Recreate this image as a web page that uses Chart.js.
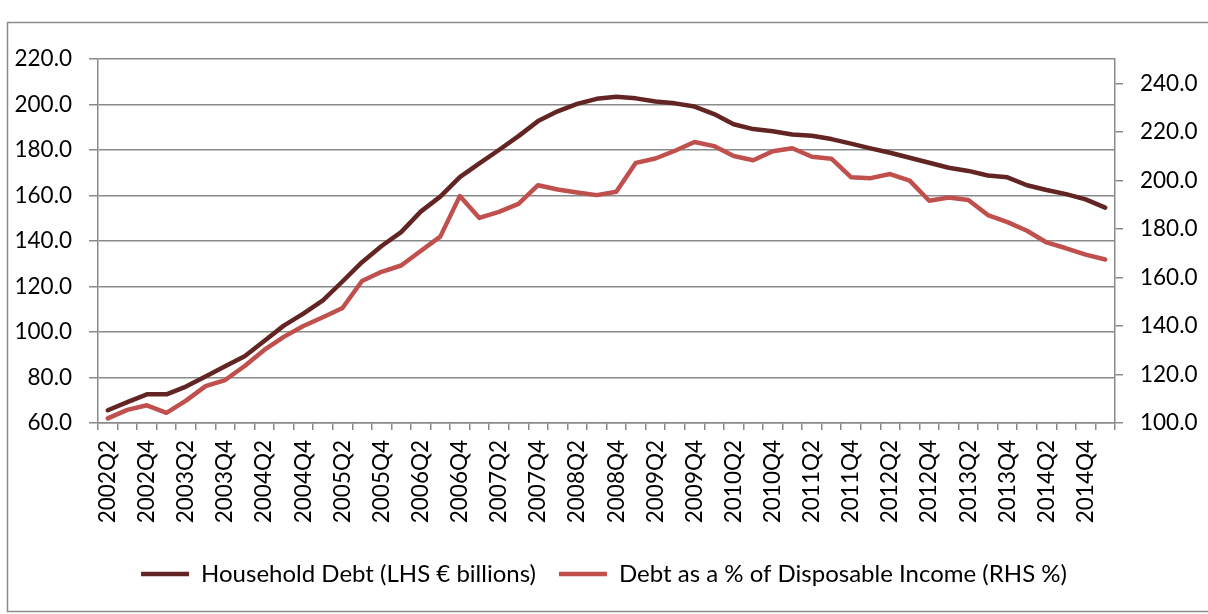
<!DOCTYPE html>
<html>
<head>
<meta charset="utf-8">
<script src="https://cdn.jsdelivr.net/npm/chart.js@4/dist/chart.umd.min.js"></script>
<style>
  html, body { margin: 0; padding: 0; background: #fff; }
  #wrap { width: 1208px; height: 614px; }
</style>
</head>
<body>
<div id="wrap"><canvas id="c" width="1208" height="614"></canvas></div>
<script>
// Quarterly categories, 2002Q2 to 2015Q1
const quarters = [
  '2002Q2','2002Q3','2002Q4','2003Q1','2003Q2','2003Q3','2003Q4','2004Q1','2004Q2','2004Q3',
  '2004Q4','2005Q1','2005Q2','2005Q3','2005Q4','2006Q1','2006Q2','2006Q3','2006Q4','2007Q1',
  '2007Q2','2007Q3','2007Q4','2008Q1','2008Q2','2008Q3','2008Q4','2009Q1','2009Q2','2009Q3',
  '2009Q4','2010Q1','2010Q2','2010Q3','2010Q4','2011Q1','2011Q2','2011Q3','2011Q4','2012Q1',
  '2012Q2','2012Q3','2012Q4','2013Q1','2013Q2','2013Q3','2013Q4','2014Q1','2014Q2','2014Q3',
  '2014Q4','2015Q1'
];

// Household debt, € billions (left axis)
const householdDebt = [
  65.6, 69.2, 72.6, 72.6, 76.0, 80.4, 84.9, 89.3, 96.0, 102.8,
  108.1, 113.9, 122.2, 130.7, 137.8, 143.9, 152.9, 159.5, 168.1, 174.1,
  180.0, 186.1, 192.7, 197.0, 200.3, 202.5, 203.4, 202.7, 201.3, 200.5,
  199.1, 195.8, 191.3, 189.2, 188.2, 186.8, 186.3, 184.8, 182.8, 180.7,
  178.8, 176.6, 174.4, 172.2, 170.8, 168.8, 168.0, 164.5, 162.4, 160.6,
  158.3, 154.7
];

// Debt as a % of disposable income (right axis)
const debtToIncome = [
  101.9, 105.4, 107.3, 104.2, 109.2, 115.2, 117.7, 123.5, 130.1, 135.5,
  140.0, 143.6, 147.4, 158.5, 162.3, 164.9, 170.9, 176.8, 193.5, 184.5,
  187.0, 190.3, 198.0, 196.2, 195.0, 193.9, 195.3, 207.2, 209.0, 212.2,
  215.8, 214.1, 210.0, 208.3, 212.0, 213.2, 209.7, 208.9, 201.3, 200.9,
  202.6, 199.9, 191.6, 192.9, 191.9, 185.7, 182.8, 179.2, 174.4, 172.0,
  169.4, 167.4
];

const leftTicks = [60, 80, 100, 120, 140, 160, 180, 200, 220];
const rightTicks = [100, 120, 140, 160, 180, 200, 220, 240];

const FONT = 'Lato';
const TICK_SIZE = 22.5;
const AXIS_GREY = '#8a8a8a';

// Thin grey frame around the whole chart
const framePlugin = {
  id: 'frame',
  beforeDraw(chart) {
    const ctx = chart.ctx;
    ctx.save();
    ctx.fillStyle = '#fff';
    ctx.fillRect(0, 0, chart.width, chart.height);
    ctx.strokeStyle = '#8c8c8c';
    ctx.lineWidth = 1.5;
    ctx.strokeRect(7.5, 22.5, 1400, 589);
    ctx.restore();
  }
};

new Chart(document.getElementById('c'), {
  type: 'line',
  data: {
    labels: quarters,
    datasets: [
      {
        label: 'Household Debt (LHS € billions)',
        data: householdDebt,
        yAxisID: 'yL',
        borderColor: '#632523',
        backgroundColor: '#632523',
        borderWidth: 4.5,
        borderCapStyle: 'round',
        borderJoinStyle: 'round',
        pointRadius: 0,
        tension: 0
      },
      {
        label: 'Debt as a % of Disposable Income (RHS %)',
        data: debtToIncome,
        yAxisID: 'yR',
        borderColor: '#C0504D',
        backgroundColor: '#C0504D',
        borderWidth: 4.5,
        borderCapStyle: 'round',
        borderJoinStyle: 'round',
        pointRadius: 0,
        tension: 0
      }
    ]
  },
  options: {
    responsive: false,
    animation: false,
    devicePixelRatio: 1,
    layout: { padding: { top: 59, left: 0, right: 0, bottom: 18 } },
    plugins: {
      legend: {
        position: 'bottom',
        labels: {
          usePointStyle: true,
          pointStyle: 'line',
          pointStyleWidth: 48,
          padding: 23,
          color: '#000',
          font: { family: FONT, size: 24 }
        }
      },
      tooltip: { enabled: false }
    },
    scales: {
      x: {
        type: 'category',
        offset: true,
        grid: {
          offset: true,
          drawOnChartArea: false,
          drawTicks: true,
          tickLength: 7,
          color: AXIS_GREY,
          lineWidth: 1.5
        },
        border: { display: true, color: AXIS_GREY, width: 1.5 },
        ticks: {
          autoSkip: false,
          minRotation: 90,
          maxRotation: 90,
          padding: 10,
          color: '#000',
          font: { family: FONT, size: TICK_SIZE },
          callback: (v, i) => (i % 2 === 0 ? quarters[i] : '')
        },
        afterFit: s => { s.height = 116; }
      },
      yL: {
        type: 'linear',
        position: 'left',
        min: 60,
        max: 220,
        grid: {
          color: AXIS_GREY,
          lineWidth: 1.5,
          tickLength: 9
        },
        border: { display: true, color: AXIS_GREY, width: 1.5 },
        ticks: {
          padding: 17,
          color: '#000',
          font: { family: FONT, size: TICK_SIZE },
          callback: v => Number(v).toFixed(1)
        },
        afterBuildTicks: s => { s.ticks = leftTicks.map(v => ({ value: v })); },
        afterFit: s => { s.width = 98; }
      },
      yR: {
        type: 'linear',
        position: 'right',
        min: 100,
        max: 250,
        grid: {
          drawOnChartArea: false,
          color: AXIS_GREY,
          lineWidth: 1.5,
          tickLength: 8
        },
        border: { display: true, color: AXIS_GREY, width: 1.5 },
        ticks: {
          padding: 17,
          color: '#000',
          font: { family: FONT, size: TICK_SIZE },
          callback: v => Number(v).toFixed(1)
        },
        afterBuildTicks: s => { s.ticks = rightTicks.map(v => ({ value: v })); },
        afterFit: s => { s.width = 93; }
      }
    }
  },
  plugins: [framePlugin]
});
</script>
</body>
</html>
